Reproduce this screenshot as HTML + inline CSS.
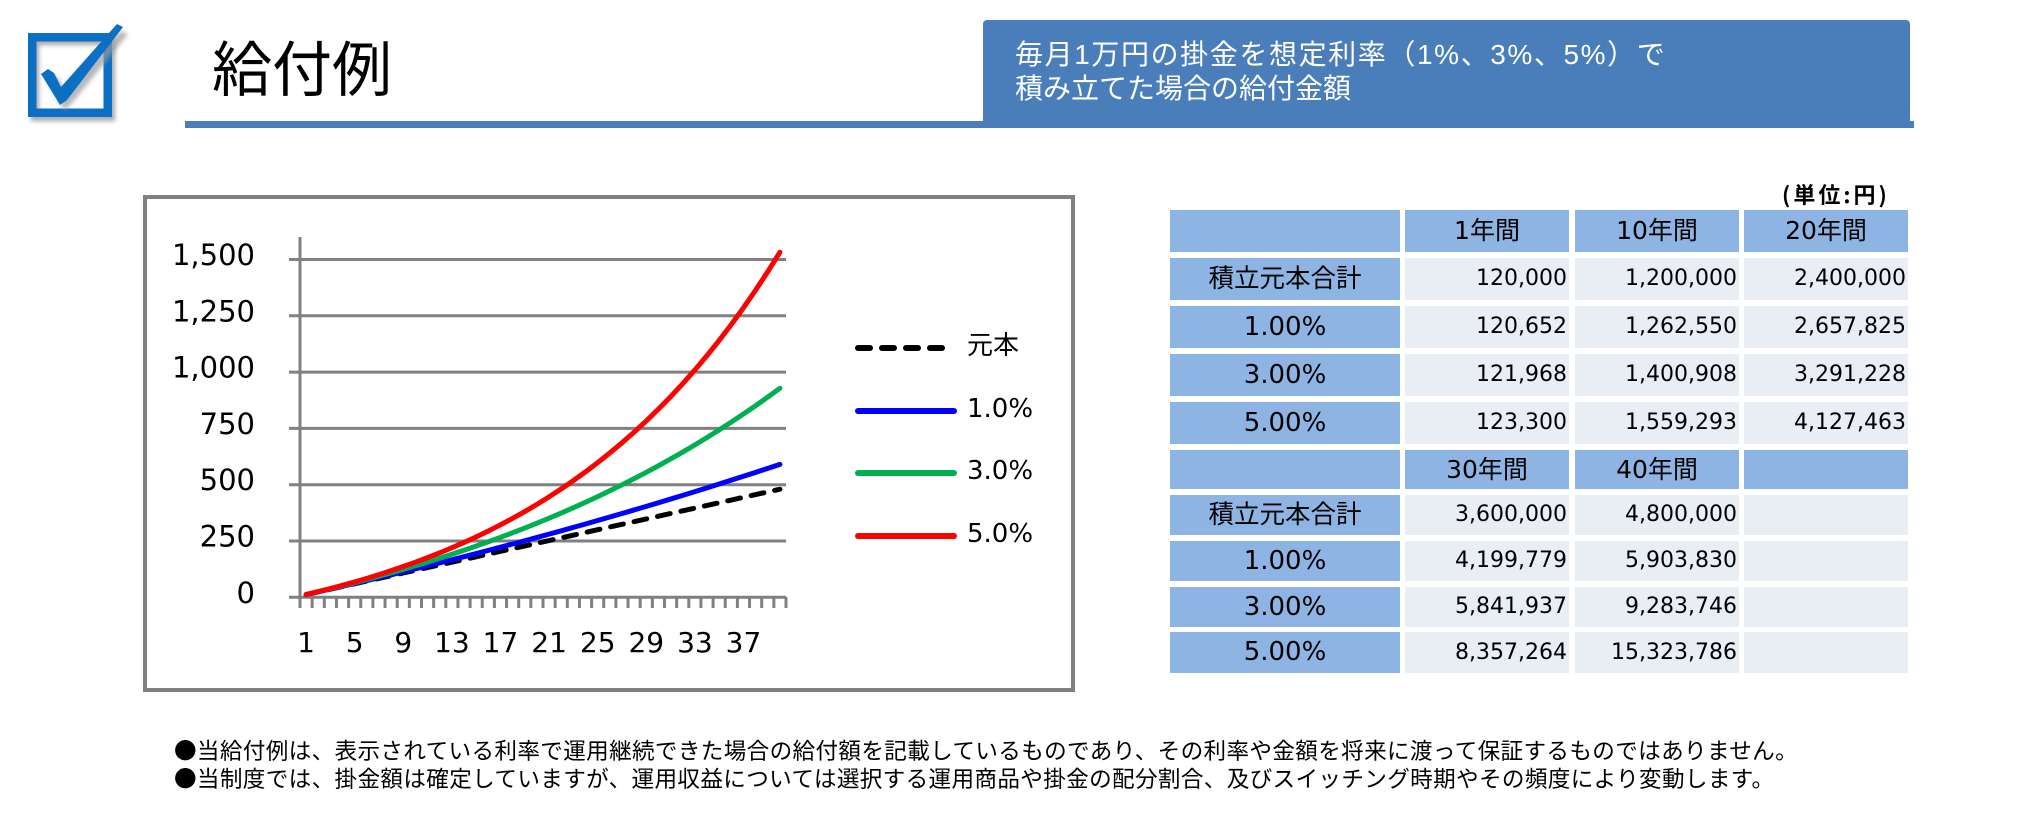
<!DOCTYPE html>
<html><head><meta charset="utf-8">
<style>
html,body{margin:0;padding:0;background:#fff;}
body{width:2021px;height:815px;position:relative;overflow:hidden;font-family:"Liberation Sans","Noto Sans CJK JP",sans-serif;}
.abs{position:absolute;}
.title{left:212px;top:36px;font-size:60px;line-height:60px;font-family:"Noto Sans CJK JP",sans-serif;color:#000;white-space:nowrap;}
.bar{left:185px;top:121px;width:1729px;height:7px;background:#4A7EBB;}
.box{left:983px;top:20px;width:927px;height:108px;background:#4A7EBB;border-radius:4px 4px 0 0;}
.boxt{left:1015px;top:38px;font-size:28px;line-height:34px;color:#fff;font-family:"Liberation Sans","Noto Sans CJK JP",sans-serif;white-space:nowrap;}
.cell{position:absolute;box-sizing:border-box;white-space:nowrap;color:#000;}
.h{background:#8EB4E3;text-align:center;font-family:"DejaVu Sans","Noto Sans CJK JP",sans-serif;font-size:25px;}
.lab{background:#8EB4E3;text-align:center;font-family:"DejaVu Sans","Noto Sans CJK JP",sans-serif;font-size:26px;}
.lab.j{font-size:25.5px;}
.d{background:#E9EDF4;text-align:right;padding-right:2px;font-family:"DejaVu Sans",sans-serif;font-size:22px;}
.unit{left:1782px;top:180px;font-size:22px;line-height:28px;letter-spacing:3px;font-weight:bold;font-family:"Noto Sans CJK JP",sans-serif;white-space:nowrap;}
.note{left:174px;font-size:22.6px;line-height:28px;letter-spacing:0.34px;font-family:"Noto Sans CJK JP",sans-serif;white-space:nowrap;color:#000;}
</style></head>
<body>
<!-- checkbox icon -->
<svg class="abs" style="left:0;top:0" width="140" height="140" viewBox="0 0 140 140">
  <defs><filter id="sh" x="-20%" y="-20%" width="150%" height="150%"><feGaussianBlur stdDeviation="2"/></filter></defs>
  <rect x="35" y="41" width="76" height="76" fill="none" stroke="#9a9a9a" stroke-width="8.5" filter="url(#sh)" opacity="0.8"/>
  <rect x="32.25" y="37.25" width="75.5" height="75.5" fill="none" stroke="#0B6FC4" stroke-width="8.5"/>
  <path d="M44,77 L50,70 L56,75 L62,88 L117,27 L125,30 L70,98 L62,106 L56,97 Z" fill="#9a9a9a" filter="url(#sh)" opacity="0.7" transform="translate(3,4)"/>
  <path d="M41,74 L48,69 L54,73 L61,87 L117,24 L123,27 L67,100 L60,105 L54,95 Z" fill="#0B6FC4"/>
</svg>

<div class="abs title">給付例</div>
<div class="abs box"></div>
<div class="abs bar"></div>
<div class="abs boxt"><span style="letter-spacing:1.6px">毎月1万円の掛金を想定利率（1%、3%、5%）で</span><br>積み立てた場合の給付金額</div>

<!-- chart -->
<svg class="abs" style="left:0;top:0" width="1100" height="720" viewBox="0 0 1100 720" id="chart">
  <rect x="145" y="197" width="928" height="493" fill="#fff" stroke="#808080" stroke-width="4"/>
  <g stroke="#808080" stroke-width="3" id="grid">
    <line x1="289" y1="259.5" x2="786" y2="259.5"/>
    <line x1="289" y1="315.8" x2="786" y2="315.8"/>
    <line x1="289" y1="372.1" x2="786" y2="372.1"/>
    <line x1="289" y1="428.4" x2="786" y2="428.4"/>
    <line x1="289" y1="484.7" x2="786" y2="484.7"/>
    <line x1="289" y1="541" x2="786" y2="541"/>
    <line x1="289" y1="597.3" x2="786" y2="597.3"/>
    <line x1="300" y1="237" x2="300" y2="608"/>
  </g>
  <g id="ticks" stroke="#808080" stroke-width="3"></g>
  <g font-family="DejaVu Sans, sans-serif" font-size="29" text-anchor="end" fill="#000">
    <text x="255" y="265">1,500</text>
    <text x="255" y="321.3">1,250</text>
    <text x="255" y="377.6">1,000</text>
    <text x="255" y="433.9">750</text>
    <text x="255" y="490.2">500</text>
    <text x="255" y="546.5">250</text>
    <text x="255" y="602.8">0</text>
  </g>
  <g font-family="DejaVu Sans, sans-serif" font-size="28" text-anchor="middle" fill="#000">
    <text x="306.1" y="652">1</text>
    <text x="354.7" y="652">5</text>
    <text x="403.3" y="652">9</text>
    <text x="451.9" y="652">13</text>
    <text x="500.5" y="652">17</text>
    <text x="549.1" y="652">21</text>
    <text x="597.7" y="652">25</text>
    <text x="646.3" y="652">29</text>
    <text x="694.9" y="652">33</text>
    <text x="743.5" y="652">37</text>
  </g>
  <g fill="none" stroke-linecap="round" stroke-linejoin="round">
    <polyline id="s0" stroke="#000" stroke-width="5" stroke-dasharray="13 11"/>
    <polyline id="s1" stroke="#0000FF" stroke-width="5"/>
    <polyline id="s3" stroke="#00B050" stroke-width="5"/>
    <polyline id="s5" stroke="#FF0000" stroke-width="5"/>
  </g>
  <g fill="none" stroke-linecap="round" stroke-width="6">
    <line x1="858" y1="348" x2="954" y2="348" stroke="#000" stroke-dasharray="12 12"/>
    <line x1="858" y1="411" x2="954" y2="411" stroke="#0000FF"/>
    <line x1="858" y1="473" x2="954" y2="473" stroke="#00B050"/>
    <line x1="858" y1="536" x2="954" y2="536" stroke="#FF0000"/>
  </g>
  <g font-size="26" fill="#000">
    <text x="967" y="354" font-family="Noto Sans CJK JP, sans-serif">元本</text>
    <text x="967" y="417" font-family="DejaVu Sans, sans-serif">1.0%</text>
    <text x="967" y="479" font-family="DejaVu Sans, sans-serif">3.0%</text>
    <text x="967" y="542" font-family="DejaVu Sans, sans-serif">5.0%</text>
  </g>
</svg>
<script>
(function(){
  var ns="http://www.w3.org/2000/svg";
  var tg=document.getElementById("ticks");
  for(var k=0;k<=40;k++){
    var x=300+k*12.15;
    var l=document.createElementNS(ns,"line");
    l.setAttribute("x1",x);l.setAttribute("x2",x);
    l.setAttribute("y1",597);l.setAttribute("y2",608);
    tg.appendChild(l);
  }
  function px(n){return 300+(n-0.5)*12.15;}
  function py(v){return 597.3-v*0.2252;}
  function pts(r){
    var a=[];
    for(var n=1;n<=40;n++){
      var v;
      if(r===0){v=12*n;}
      else{var i=r/12;v=(1+i)*(Math.pow(1+i,12*n)-1)/i;}
      a.push(px(n).toFixed(2)+","+py(v).toFixed(2));
    }
    return a.join(" ");
  }
  document.getElementById("s0").setAttribute("points",pts(0));
  document.getElementById("s1").setAttribute("points",pts(0.01));
  document.getElementById("s3").setAttribute("points",pts(0.03));
  document.getElementById("s5").setAttribute("points",pts(0.05));
})();
</script>

<!-- table -->
<div class="abs unit">(単位:円)</div>

<div class="cell h" style="left:1170px;top:210px;width:230px;height:42px;line-height:42px;"></div>
<div class="cell h" style="left:1405px;top:210px;width:164px;height:42px;line-height:42px;">1年間</div>
<div class="cell h" style="left:1575px;top:210px;width:164px;height:42px;line-height:42px;">10年間</div>
<div class="cell h" style="left:1744px;top:210px;width:164px;height:42px;line-height:42px;">20年間</div>

<div class="cell lab j" style="left:1170px;top:258px;width:230px;height:42px;line-height:42px;">積立元本合計</div>
<div class="cell d" style="left:1405px;top:258px;width:164px;height:42px;line-height:42px;">120,000</div>
<div class="cell d" style="left:1575px;top:258px;width:164px;height:42px;line-height:42px;">1,200,000</div>
<div class="cell d" style="left:1744px;top:258px;width:164px;height:42px;line-height:42px;">2,400,000</div>

<div class="cell lab" style="left:1170px;top:306px;width:230px;height:42px;line-height:42px;">1.00%</div>
<div class="cell d" style="left:1405px;top:306px;width:164px;height:42px;line-height:42px;">120,652</div>
<div class="cell d" style="left:1575px;top:306px;width:164px;height:42px;line-height:42px;">1,262,550</div>
<div class="cell d" style="left:1744px;top:306px;width:164px;height:42px;line-height:42px;">2,657,825</div>

<div class="cell lab" style="left:1170px;top:354px;width:230px;height:42px;line-height:42px;">3.00%</div>
<div class="cell d" style="left:1405px;top:354px;width:164px;height:42px;line-height:42px;">121,968</div>
<div class="cell d" style="left:1575px;top:354px;width:164px;height:42px;line-height:42px;">1,400,908</div>
<div class="cell d" style="left:1744px;top:354px;width:164px;height:42px;line-height:42px;">3,291,228</div>

<div class="cell lab" style="left:1170px;top:402px;width:230px;height:42px;line-height:42px;">5.00%</div>
<div class="cell d" style="left:1405px;top:402px;width:164px;height:42px;line-height:42px;">123,300</div>
<div class="cell d" style="left:1575px;top:402px;width:164px;height:42px;line-height:42px;">1,559,293</div>
<div class="cell d" style="left:1744px;top:402px;width:164px;height:42px;line-height:42px;">4,127,463</div>

<div class="cell h" style="left:1170px;top:450px;width:230px;height:39px;line-height:39px;"></div>
<div class="cell h" style="left:1405px;top:450px;width:164px;height:39px;line-height:39px;">30年間</div>
<div class="cell h" style="left:1575px;top:450px;width:164px;height:39px;line-height:39px;">40年間</div>
<div class="cell h" style="left:1744px;top:450px;width:164px;height:39px;line-height:39px;"></div>

<div class="cell lab j" style="left:1170px;top:495px;width:230px;height:40px;line-height:40px;">積立元本合計</div>
<div class="cell d" style="left:1405px;top:495px;width:164px;height:40px;line-height:40px;">3,600,000</div>
<div class="cell d" style="left:1575px;top:495px;width:164px;height:40px;line-height:40px;">4,800,000</div>
<div class="cell d" style="left:1744px;top:495px;width:164px;height:40px;line-height:40px;"></div>

<div class="cell lab" style="left:1170px;top:541px;width:230px;height:40px;line-height:40px;">1.00%</div>
<div class="cell d" style="left:1405px;top:541px;width:164px;height:40px;line-height:40px;">4,199,779</div>
<div class="cell d" style="left:1575px;top:541px;width:164px;height:40px;line-height:40px;">5,903,830</div>
<div class="cell d" style="left:1744px;top:541px;width:164px;height:40px;line-height:40px;"></div>

<div class="cell lab" style="left:1170px;top:587px;width:230px;height:40px;line-height:40px;">3.00%</div>
<div class="cell d" style="left:1405px;top:587px;width:164px;height:40px;line-height:40px;">5,841,937</div>
<div class="cell d" style="left:1575px;top:587px;width:164px;height:40px;line-height:40px;">9,283,746</div>
<div class="cell d" style="left:1744px;top:587px;width:164px;height:40px;line-height:40px;"></div>

<div class="cell lab" style="left:1170px;top:632px;width:230px;height:41px;line-height:41px;">5.00%</div>
<div class="cell d" style="left:1405px;top:632px;width:164px;height:41px;line-height:41px;">8,357,264</div>
<div class="cell d" style="left:1575px;top:632px;width:164px;height:41px;line-height:41px;">15,323,786</div>
<div class="cell d" style="left:1744px;top:632px;width:164px;height:41px;line-height:41px;"></div>

<!-- notes -->
<div class="abs note" style="top:736px;">●当給付例は、表示されている利率で運用継続できた場合の給付額を記載しているものであり、その利率や金額を将来に渡って保証するものではありません。</div>
<div class="abs note" style="top:764px;">●当制度では、掛金額は確定していますが、運用収益については選択する運用商品や掛金の配分割合、及びスイッチング時期やその頻度により変動します。</div>
</body></html>
